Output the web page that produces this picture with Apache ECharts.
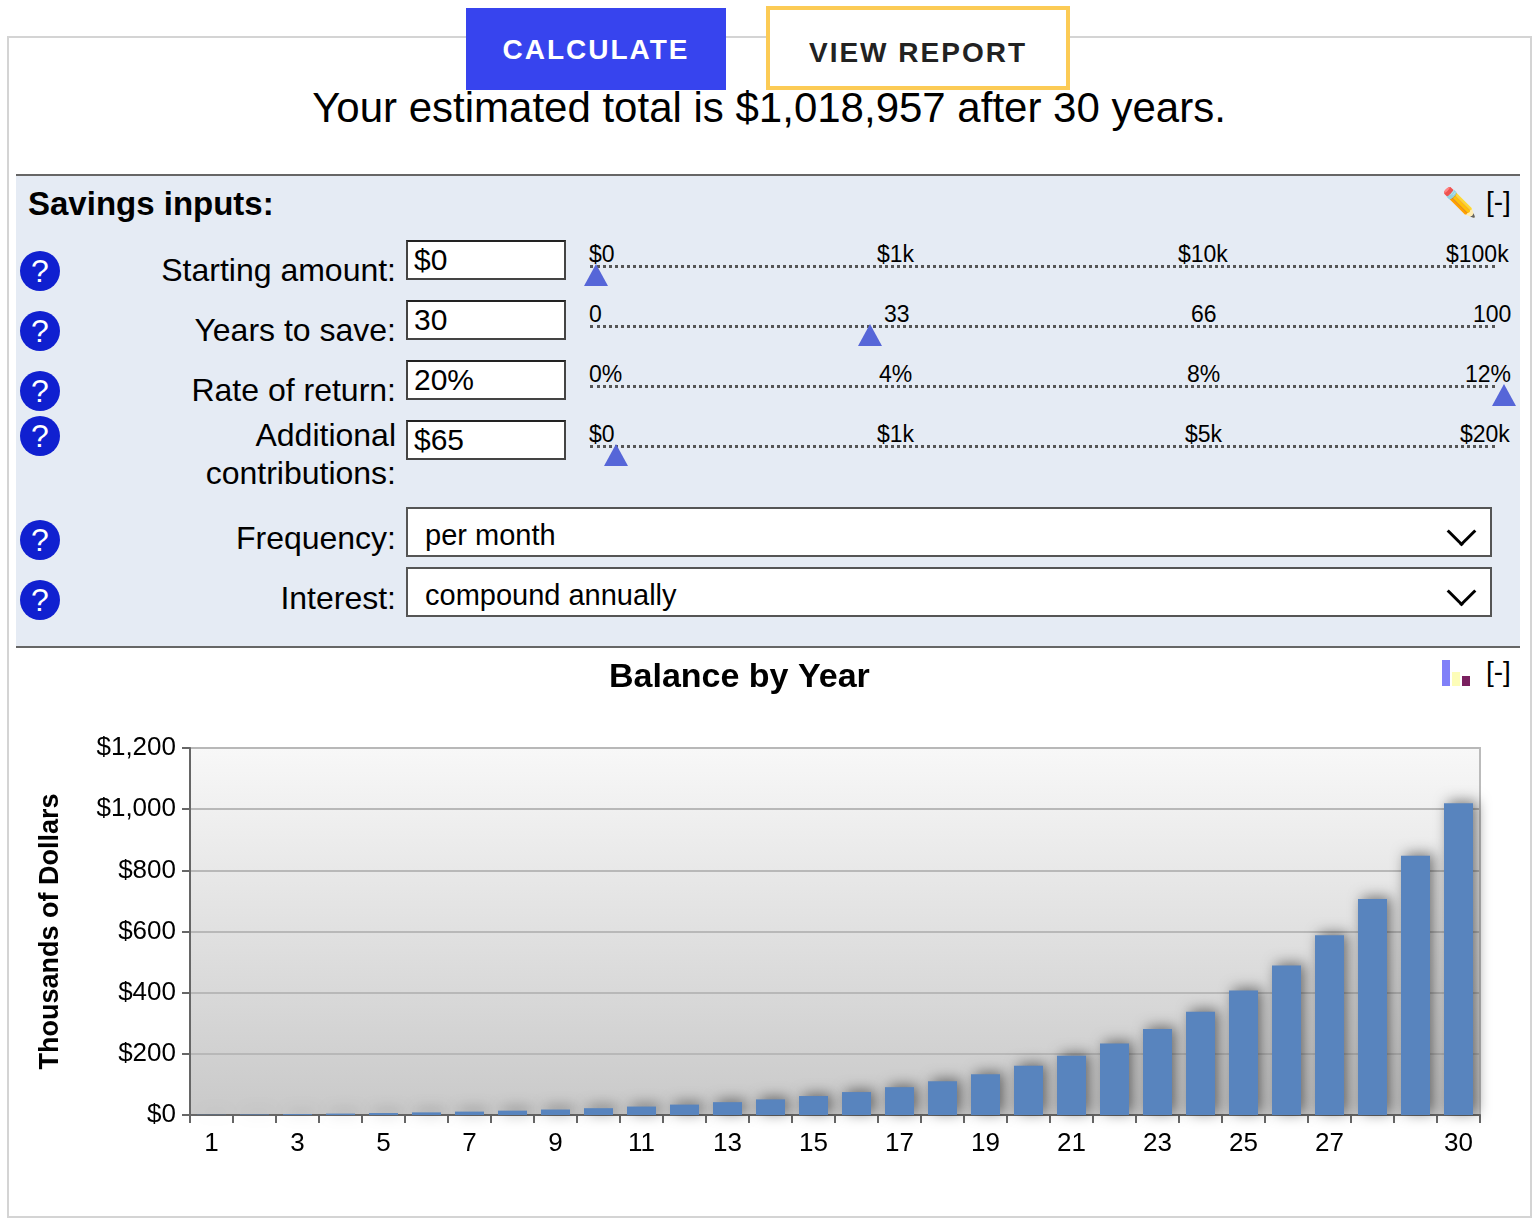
<!DOCTYPE html>
<html><head><meta charset="utf-8">
<script src="https://cdn.jsdelivr.net/npm/echarts@6/dist/echarts.min.js"></script>
<style>
body{margin:0;width:1538px;height:1222px;background:#fff;font-family:"Liberation Sans",Arial,sans-serif;position:relative;overflow:hidden}
.a{position:absolute}
.q{position:absolute;left:20px;width:40px;height:40px;border-radius:50%;background:#1020d0;color:#fff;font-size:32px;text-align:center;line-height:40px}
.lbl{position:absolute;right:1142px;font-size:32px;color:#000;text-align:right;white-space:nowrap}
.inp{position:absolute;left:406px;width:150px;height:36px;border:2px solid #444;background:#fff;font-size:30px;line-height:36px;padding-left:6px;box-sizing:content-box;border-top-color:#222}
.track{position:absolute;left:590px;width:905px;border-top:3px dotted #555}
.tk{position:absolute;font-size:23px;color:#000}
.tri{position:absolute;width:0;height:0;border-left:12px solid transparent;border-right:12px solid transparent;border-bottom:22px solid #5666d8}
.sel{position:absolute;left:406px;width:1086px;height:50px;border:2px solid #555;background:#fff;font-size:29px;line-height:52px;padding-left:17px;box-sizing:border-box}
.chev{position:absolute;right:18px;top:12px;width:18px;height:18px;border-right:3px solid #000;border-bottom:3px solid #000;transform:rotate(45deg)}
</style></head><body>
<div class="a" style="left:7px;top:36px;width:1521px;height:1178px;border:2px solid #d4d4d4"></div>
<div class="a" style="left:466px;top:8px;width:260px;height:82px;background:#3744ee;color:#fff;font-weight:bold;font-size:28px;letter-spacing:2px;text-align:center;line-height:84px">CALCULATE</div>
<div class="a" style="left:766px;top:6px;width:296px;height:76px;border:4px solid #fccb55;background:#fff;color:#222;font-weight:bold;font-size:28px;letter-spacing:2px;text-align:center;line-height:86px">VIEW REPORT</div>
<div class="a" style="left:0;width:1538px;top:84px;text-align:center;font-size:42px;color:#000">Your estimated total is $1,018,957 after 30 years.</div>
<div class="a" style="left:16px;top:174px;width:1504px;height:470px;background:#e5ebf4;border-top:2px solid #666;border-bottom:2px solid #666"></div>
<div class="a" style="left:28px;top:185px;font-size:33px;font-weight:bold">Savings inputs:</div>
<div class="a" style="left:1442px;top:186px;font-size:28px">✏️</div>
<div class="a" style="left:1486px;top:186px;font-size:28px">[-]</div>

<div class="q" style="top:251px">?</div><div class="q" style="top:311px">?</div><div class="q" style="top:371px">?</div>
<div class="q" style="top:416px">?</div><div class="q" style="top:520px">?</div><div class="q" style="top:580px">?</div>
<div class="lbl" style="top:252px">Starting amount:</div>
<div class="lbl" style="top:312px">Years to save:</div>
<div class="lbl" style="top:372px">Rate of return:</div>
<div class="lbl" style="top:416px;line-height:38px">Additional<br>contributions:</div>
<div class="lbl" style="top:520px">Frequency:</div>
<div class="lbl" style="top:580px">Interest:</div>
<div class="inp" style="top:240px">$0</div>
<div class="inp" style="top:300px">30</div>
<div class="inp" style="top:360px">20%</div>
<div class="inp" style="top:420px">$65</div>

<div class="track" style="top:265px"></div><div class="track" style="top:325px"></div><div class="track" style="top:385px"></div><div class="track" style="top:445px"></div>
<div class="tk" style="left:589px;top:241px">$0</div><div class="tk" style="left:877px;top:241px">$1k</div><div class="tk" style="left:1178px;top:241px">$10k</div><div class="tk" style="left:1446px;top:241px">$100k</div>
<div class="tk" style="left:589px;top:301px">0</div><div class="tk" style="left:884px;top:301px">33</div><div class="tk" style="left:1191px;top:301px">66</div><div class="tk" style="left:1473px;top:301px">100</div>
<div class="tk" style="left:589px;top:361px">0%</div><div class="tk" style="left:879px;top:361px">4%</div><div class="tk" style="left:1187px;top:361px">8%</div><div class="tk" style="left:1465px;top:361px">12%</div>
<div class="tk" style="left:589px;top:421px">$0</div><div class="tk" style="left:877px;top:421px">$1k</div><div class="tk" style="left:1185px;top:421px">$5k</div><div class="tk" style="left:1460px;top:421px">$20k</div>
<div class="tri" style="left:584px;top:264px"></div><div class="tri" style="left:858px;top:324px"></div><div class="tri" style="left:1492px;top:384px"></div><div class="tri" style="left:604px;top:444px"></div>

<div class="sel" style="top:507px">per month<div class="chev"></div></div>
<div class="sel" style="top:567px">compound annually<div class="chev"></div></div>

<div class="a" style="left:1442px;top:660px;width:8px;height:26px;background:#8080f8"></div>
<div class="a" style="left:1452px;top:672px;width:8px;height:14px;background:#fdfdb8"></div>
<div class="a" style="left:1462px;top:676px;width:8px;height:10px;background:#7a2060"></div>
<div class="a" style="left:1486px;top:656px;font-size:28px">[-]</div>

<div id="chart" class="a" style="left:8px;top:646px;width:1520px;height:568px"></div>
<script>
var years = [];
for (var y = 1; y <= 30; y++) years.push(String(y));
var balances = [0.8, 1.8, 3.1, 4.6, 6.4, 8.6, 11.1, 14.2, 17.9, 22.3, 27.6, 34, 42, 51, 62, 75, 91, 110, 133, 161, 194, 234, 281, 338, 407, 489, 588, 706, 848, 1019];
var yTicks = [0, 200, 400, 600, 800, 1000, 1200];
var shownLabels = ['1','3','5','7','9','11','13','15','17','19','21','23','25','27','30'];

var chart = echarts.init(document.getElementById('chart'));
chart.setOption({
    animation: false,
    title: {text: 'Balance by Year', left: 596, top: 10,
        textStyle: {fontSize: 34, fontWeight: 'bold', color: '#000', fontFamily: 'Liberation Sans'}},
    grid: {left: 182, top: 102, width: 1290, height: 367, show: true,
        borderColor: '#bbb', borderWidth: 2,
        backgroundColor: new echarts.graphic.LinearGradient(0, 0, 0, 1, [
            {offset: 0, color: '#f8f8f8'}, {offset: 1, color: '#c9c9c9'}])},
    xAxis: {
        type: 'category', data: years,
        axisLine: {lineStyle: {color: '#666', width: 2}},
        axisTick: {show: true, length: 8, lineStyle: {color: '#666', width: 2}},
        axisLabel: {interval: 0, fontSize: 26, color: '#000', margin: 16, fontFamily: 'Liberation Sans',
            formatter: function (v) { return shownLabels.indexOf(v) >= 0 ? v : ''; }}
    },
    yAxis: {
        type: 'value', min: yTicks[0], max: yTicks[yTicks.length - 1], interval: 200,
        name: 'Thousands of Dollars', nameLocation: 'middle', nameGap: 126, nameRotate: 90,
        nameTextStyle: {fontSize: 27, fontWeight: 'bold', color: '#000', fontFamily: 'Liberation Sans'},
        axisLine: {show: true, lineStyle: {color: '#666', width: 2}},
        axisTick: {show: true, length: 8, lineStyle: {color: '#666', width: 2}},
        splitLine: {lineStyle: {color: '#b8b8b8', width: 2}},
        axisLabel: {fontSize: 26, color: '#000', margin: 14, fontFamily: 'Liberation Sans',
            formatter: function (v) { return '$' + v.toLocaleString('en-US'); }}
    },
    series: [{
        type: 'bar', data: balances, barWidth: 29,
        itemStyle: {color: '#5884be', shadowColor: 'rgba(0,0,0,0.5)', shadowBlur: 14, shadowOffsetX: 4, shadowOffsetY: -2}
    }]
});
</script>
</body></html>
